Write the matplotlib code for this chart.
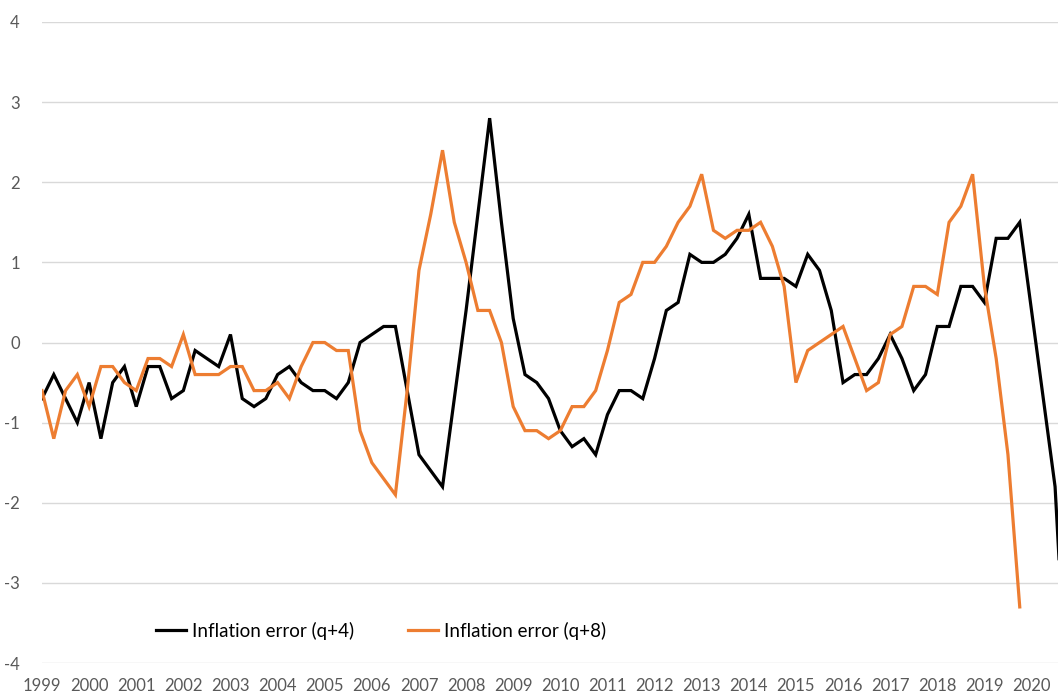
# -*- coding: utf-8 -*-
# Inflation forecast errors, quarterly 1999Q1 onwards

import numpy as np
import matplotlib.pyplot as plt

# Data (one value per quarter, starting 1999Q1)
error_q4 = [-0.7, -0.4, -0.7, -1.0, -0.5, -1.2, -0.5, -0.3,
            -0.8, -0.3, -0.3, -0.7, -0.6, -0.1, -0.2, -0.3,
            0.1, -0.7, -0.8, -0.7, -0.4, -0.3, -0.5, -0.6,
            -0.6, -0.7, -0.5, 0.0, 0.1, 0.2, 0.2, -0.6,
            -1.4, -1.6, -1.8, -0.7, 0.4, 1.6, 2.8, 1.5,
            0.3, -0.4, -0.5, -0.7, -1.1, -1.3, -1.2, -1.4,
            -0.9, -0.6, -0.6, -0.7, -0.2, 0.4, 0.5, 1.1,
            1.0, 1.0, 1.1, 1.3, 1.6, 0.8, 0.8, 0.8,
            0.7, 1.1, 0.9, 0.4, -0.5, -0.4, -0.4, -0.2,
            0.1, -0.2, -0.6, -0.4, 0.2, 0.2, 0.7, 0.7,
            0.5, 1.3, 1.3, 1.5, 0.4, -0.7, -1.8, -4.5]

error_q8 = [-0.6, -1.2, -0.6, -0.4, -0.8, -0.3, -0.3, -0.5,
            -0.6, -0.2, -0.2, -0.3, 0.1, -0.4, -0.4, -0.4,
            -0.3, -0.3, -0.6, -0.6, -0.5, -0.7, -0.3, 0.0,
            0.0, -0.1, -0.1, -1.1, -1.5, -1.7, -1.9, -0.6,
            0.9, 1.6, 2.4, 1.5, 1.0, 0.4, 0.4, 0.0,
            -0.8, -1.1, -1.1, -1.2, -1.1, -0.8, -0.8, -0.6,
            -0.1, 0.5, 0.6, 1.0, 1.0, 1.2, 1.5, 1.7,
            2.1, 1.4, 1.3, 1.4, 1.4, 1.5, 1.2, 0.7,
            -0.5, -0.1, 0.0, 0.1, 0.2, -0.2, -0.6, -0.5,
            0.1, 0.2, 0.7, 0.7, 0.6, 1.5, 1.7, 2.1,
            0.7, -0.2, -1.4, -3.3]

years = list(range(1999, 2021))
series_labels = ['Inflation error (q+4)', 'Inflation error (q+8)']

W, H = 1058, 693
font_name = 'Lato'
grey_text = '#595959'

plt.rcParams['axes.unicode_minus'] = False

fig = plt.figure(figsize=(W / 100, H / 100), dpi=100)
ax = fig.add_axes([42 / W, 1 - 663 / H, (W - 42) / W, (663 - 22) / H])

# Lines
ax.plot(np.arange(len(error_q4)), error_q4, color='black', linewidth=2.3,
        label=series_labels[0], solid_joinstyle='miter')
ax.plot(np.arange(len(error_q8)), error_q8, color='#ED7D31', linewidth=2.3,
        label=series_labels[1], solid_joinstyle='miter')

# Axes limits and grid
ax.set_xlim(0, (W - 42) / 11.78)
ax.set_ylim(-4, 4)
ax.set_yticks(range(-4, 5))
ax.yaxis.grid(True, color='#d9d9d9', linewidth=1.0)
ax.set_axisbelow(True)
for s in ax.spines.values():
    s.set_visible(False)

ax.set_xticks([4 * i for i in range(len(years))])
ax.set_xticklabels([str(y) for y in years])
ax.tick_params(axis='both', length=0, labelsize=12, labelcolor=grey_text)
ax.tick_params(axis='x', pad=11)
ax.tick_params(axis='y', pad=16)
for lab in ax.get_xticklabels() + ax.get_yticklabels():
    lab.set_fontname(font_name)

# Legend
leg = ax.legend(loc='center', bbox_to_anchor=((381 - 42) / (W - 42), (663 - 631) / 641),
                ncol=2, frameon=False, handlelength=1.6, handletextpad=0.3,
                columnspacing=2.9, prop={'family': font_name, 'size': 13.5})
for t in leg.get_texts():
    t.set_color('#000000')

plt.savefig('out.png', dpi=100)
plt.close()
